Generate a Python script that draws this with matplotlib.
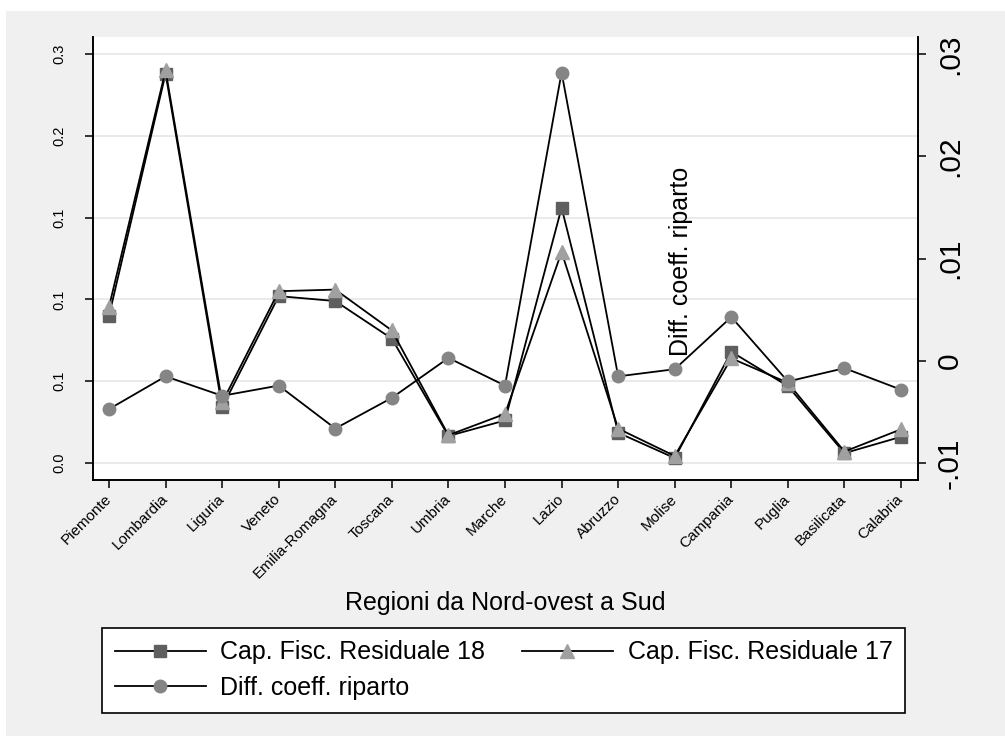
import numpy as np
import matplotlib
matplotlib.use("Agg")
import matplotlib.pyplot as plt
from matplotlib.patches import Rectangle

plt.rcParams["font.family"] = ["Liberation Sans", "DejaVu Sans"]

# dati
regioni = ["Piemonte", "Lombardia", "Liguria", "Veneto", "Emilia-Romagna",
           "Toscana", "Umbria", "Marche", "Lazio", "Abruzzo", "Molise",
           "Campania", "Puglia", "Basilicata", "Calabria"]
cap18 = [0.090, 0.238, 0.034, 0.102, 0.099, 0.076, 0.0165, 0.026, 0.156,
         0.0185, 0.003, 0.068, 0.047, 0.006, 0.016]
cap17 = [0.0955, 0.240, 0.037, 0.105, 0.106, 0.081, 0.017, 0.030, 0.129,
         0.021, 0.0043, 0.064, 0.049, 0.007, 0.0206]
diff = [-0.0047, -0.0015, -0.0034, -0.0024, -0.0066, -0.0036, 0.0003,
        -0.0024, 0.0282, -0.0015, -0.0008, 0.0043, -0.0020, -0.0007, -0.0028]

yticks_sx = [0, 0.05, 0.10, 0.15, 0.20, 0.25]
ylabels_sx = ["0.0", "0.1", "0.1", "0.1", "0.2", "0.3"]
yticks_dx = [-0.01, 0, 0.01, 0.02, 0.03]
ylabels_dx = ["-.01", "0", ".01", ".02", ".03"]

W, H = 1005, 736
fig = plt.figure(figsize=(W / 100, H / 100), dpi=100, facecolor="white")
fig.patches.append(Rectangle((6 / W, 0), 1 - 6 / W, 1 - 11 / H,
                             transform=fig.transFigure, facecolor="#f0f0f0",
                             edgecolor="none", zorder=-10))

ax = fig.add_axes([93 / W, 1 - 480 / H, (918 - 93) / W, (480 - 37) / H])
ax2 = ax.twinx()

x = np.arange(len(regioni))
l18, = ax.plot(x, cap18, color="black", lw=1.3, marker="s", ms=8.5,
               mfc="#5f5f5f", mec="#5f5f5f", label="Cap. Fisc. Residuale 18")
l17, = ax.plot(x, cap17, color="black", lw=1.3, marker="^", ms=9.5,
               mfc="#a0a0a0", mec="#a0a0a0", label="Cap. Fisc. Residuale 17")
ld, = ax2.plot(x, diff, color="black", lw=1.3, marker="o", ms=9,
               mfc="#858585", mec="#858585", label="Diff. coeff. riparto")

ax.set_xlim(-0.283, 14.30)
ax.set_ylim(-0.0104, 0.2604)
ax2.set_ylim(-0.01163, 0.03167)

ax.set_yticks(yticks_sx)
ax.set_yticklabels(ylabels_sx, rotation=90, va="center", fontsize=10.5)
ax2.set_yticks(yticks_dx)
ax2.set_yticklabels(ylabels_dx, rotation=90, va="center", fontsize=21.5)
ax.set_xticks(x)
ax.set_xticklabels(regioni, rotation=45, ha="right", va="center",
                   rotation_mode="anchor", fontsize=11)

ax.grid(axis="y", color="#e8e8e8", lw=1.3)
ax.set_axisbelow(True)

for a in (ax, ax2):
    a.spines["top"].set_visible(False)
    for s in ("left", "right", "bottom"):
        a.spines[s].set_linewidth(1.2)
ax.tick_params(axis="y", direction="out", length=6, width=1.1, pad=13)
ax.tick_params(axis="x", direction="out", length=6, width=1.1, pad=6)
ax2.tick_params(axis="y", direction="out", length=6, width=1.1, pad=7)

ax2.set_ylabel("Diff. coeff. riparto", fontsize=18, rotation=90)
ax2.yaxis.set_label_coords((669 - 93) / 825, (480 - 261) / 443)

fig.text(505 / W, 1 - 603 / H, "Regioni da Nord-ovest a Sud", fontsize=18,
         ha="center", va="center")

leg = fig.legend([l18, ld, l17], [l18.get_label(), ld.get_label(), l17.get_label()],
                 ncol=2, loc="upper left", bbox_to_anchor=(102 / W, 1 - 628 / H),
                 fontsize=18, handlelength=3.64, handletextpad=0.6,
                 columnspacing=1.44, labelspacing=0.46, borderpad=0.5,
                 fancybox=False, framealpha=1, edgecolor="black",
                 borderaxespad=0)
leg.get_frame().set_linewidth(1.2)

fig.savefig("out.png", dpi=100)
